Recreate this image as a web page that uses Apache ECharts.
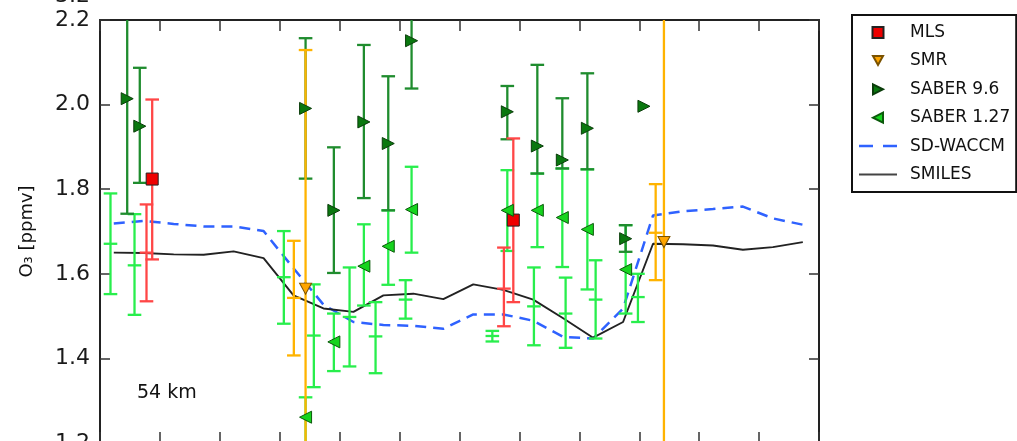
<!DOCTYPE html>
<html>
<head>
<meta charset="utf-8">
<script src="https://cdn.jsdelivr.net/npm/echarts@6/dist/echarts.min.js"></script>
<style>
html,body{margin:0;padding:0;background:#ffffff;}
#chart{width:1017px;height:441px;}
</style>
</head>
<body>
<div id="chart"></div>
<script>
// ---------------- data ----------------
const yTicks = [1.2, 1.4, 1.6, 1.8, 2.0, 2.2];

// model curves
const modelX  = [0.23, 0.73, 1.23, 1.73, 2.23, 2.73, 3.23, 3.73, 4.23, 4.73, 5.23, 5.73,
                 6.23, 6.73, 7.23, 7.73, 8.23, 8.73, 9.23, 9.73, 10.23, 10.73, 11.23, 11.73];
const smiles  = [1.650, 1.649, 1.646, 1.645, 1.653, 1.637, 1.549, 1.518, 1.510, 1.549, 1.553, 1.540,
                 1.575, 1.562, 1.539, 1.495, 1.449, 1.486, 1.671, 1.670, 1.667, 1.657, 1.663, 1.675];
const sdwaccm = [1.719, 1.725, 1.718, 1.712, 1.712, 1.701, 1.613, 1.527, 1.486, 1.479, 1.477, 1.470,
                 1.504, 1.504, 1.489, 1.451, 1.447, 1.518, 1.738, 1.748, 1.753, 1.759, 1.731, 1.716];

// MLS (markers)
const mlsX    = [0.871, 6.898];
const mlsVal  = [1.824, 1.727];
const mlsLow  = [1.634, 1.533];
const mlsHigh = [2.012, 1.920];
// MLS (bars without marker)
const mlsBarX    = [0.776, 6.741];
const mlsBarMid  = [1.650, 1.565];
const mlsBarLow  = [1.535, 1.476];
const mlsBarHigh = [1.764, 1.662];

// SMR (markers)
const smrX    = [3.431, 9.412];
const smrVal  = [1.565, 1.675];
const smrLow  = [1.05, 1.05];
const smrHigh = [2.129, 2.35];
// SMR (bars without marker)
const smrBarX    = [3.235, 9.274];
const smrBarMid  = [1.543, 1.697];
const smrBarLow  = [1.407, 1.585];
const smrBarHigh = [1.678, 1.812];

// SABER 9.6 um
const s96X    = [0.454, 0.664, 3.431, 3.903, 4.404, 4.811, 5.200, 6.798, 7.299, 7.716, 8.134, 8.773, 9.078];
const s96Val  = [2.014, 1.949, 1.991, 1.750, 1.959, 1.908, 2.151, 1.983, 1.902, 1.869, 1.944, 1.683, 1.996];
const s96Low  = [1.742, 1.815, 1.825, 1.602, 1.779, 1.750, 2.038, 1.918, 1.837, 1.849, 1.847, 1.652, 1.996];
const s96High = [2.35,  2.087, 2.157, 1.899, 2.141, 2.067, 2.35,  2.044, 2.094, 2.015, 2.074, 1.715, 1.996];

// SABER 1.27 um (markers)
const s127X    = [3.431, 3.903, 4.404, 4.811, 5.200, 6.798, 7.299, 7.716, 8.134, 8.773];
const s127Val  = [1.261, 1.439, 1.618, 1.665, 1.752, 1.750, 1.750, 1.733, 1.705, 1.610];
const s127Low  = [1.10,  1.370, 1.525, 1.574, 1.650, 1.654, 1.663, 1.616, 1.563, 1.506];
const s127High = [1.308, 1.506, 1.717, 1.750, 1.853, 1.845, 1.837, 1.849, 1.847, 1.715];
// SABER 1.27 um (bars without marker)
const s127BarX    = [0.175, 0.576, 3.068, 3.569, 4.165, 4.599, 5.100, 6.548, 7.242, 7.771, 8.272, 8.978];
const s127BarMid  = [1.671, 1.620, 1.592, 1.454, 1.498, 1.452, 1.539, 1.453, 1.523, 1.506, 1.539, 1.545];
const s127BarLow  = [1.552, 1.503, 1.482, 1.332, 1.381, 1.365, 1.494, 1.440, 1.431, 1.425, 1.447, 1.486];
const s127BarHigh = [1.790, 1.741, 1.701, 1.575, 1.615, 1.533, 1.585, 1.465, 1.615, 1.591, 1.632, 1.600];

const legendNames = ['MLS', 'SMR', 'SABER 9.6', 'SABER 1.27', 'SD-WACCM', 'SMILES'];
const altitudeText = '54 km';

// ---------------- styling ----------------
const FONT = 'DejaVu Sans';
const C = {
  mlsBar: '#ff4646', mlsMark: '#ee0000',
  smrBar: '#ffb300', smrMark: '#ffa500',
  s96Bar: '#1f8c2e', s96Mark: '#0a780f',
  s127Bar: '#28ee4c', s127Mark: '#16d41e',
  waccm: '#2f62ff', smiles: '#222222'
};

function errData(xs, lo, hi, mid) {
  return xs.map((x, i) => [x, lo[i], hi[i], mid ? mid[i] : NaN]);
}
function errRender(color, withMid) {
  return function (params, api) {
    const x = api.value(0);
    const pTop = api.coord([x, api.value(2)]);
    const pBot = api.coord([x, api.value(1)]);
    const cw = 6.8;
    const style = { stroke: color, lineWidth: 2.3, fill: null };
    const ch = [];
    if (Math.abs(pBot[1] - pTop[1]) > 0.5) {
      ch.push({ type: 'line', shape: { x1: pTop[0], y1: pTop[1], x2: pBot[0], y2: pBot[1] }, style });
      ch.push({ type: 'line', shape: { x1: pTop[0] - cw, y1: pTop[1], x2: pTop[0] + cw, y2: pTop[1] }, style });
      ch.push({ type: 'line', shape: { x1: pBot[0] - cw, y1: pBot[1], x2: pBot[0] + cw, y2: pBot[1] }, style });
    }
    if (withMid) {
      const m = api.coord([x, api.value(3)]);
      ch.push({ type: 'line', shape: { x1: m[0] - cw, y1: m[1], x2: m[0] + cw, y2: m[1] }, style });
    }
    return { type: 'group', children: ch };
  };
}
function errSeries(id, data, color, withMid) {
  return {
    type: 'custom', id: id, name: id, data: data, clip: true, z: 3,
    encode: { x: 0, y: [1, 2] }, renderItem: errRender(color, withMid),
    silent: true, animation: false
  };
}
const pair = (xs, vs) => xs.map((x, i) => [x, vs[i]]);

const SYM_SQUARE = 'path://M0,0H10V10H0Z';
const SYM_RIGHT = 'path://M0,0L10,5L0,10Z';
const SYM_LEFT = 'path://M10,0L0,5L10,10Z';
const SYM_DOWN = 'path://M0,0H10L5,9Z';

const chart = echarts.init(document.getElementById('chart'), null, { renderer: 'canvas' });

const axisLineStyle = { color: '#222', width: 2 };
const tickStyle = { color: '#333', width: 1.5 };

const option = {
  animation: false,
  backgroundColor: '#ffffff',
  textStyle: { fontFamily: FONT },
  grid: { left: 100, top: 20, width: 719, height: 423, containLabel: false, outerBoundsMode: 'none' },
  xAxis: [
    { type: 'value', position: 'bottom', min: 0, max: 12, interval: 1,
      axisLine: { show: true, lineStyle: axisLineStyle, onZero: false },
      axisTick: { show: true, inside: true, length: 11, lineStyle: tickStyle },
      axisLabel: { show: false }, splitLine: { show: false } },
    { type: 'value', position: 'top', min: 0, max: 12, interval: 1,
      axisLine: { show: true, lineStyle: axisLineStyle, onZero: false },
      axisTick: { show: true, inside: true, length: 11, lineStyle: tickStyle },
      axisLabel: { show: false }, splitLine: { show: false } }
  ],
  yAxis: [
    { type: 'value', position: 'left', min: yTicks[0], max: yTicks[yTicks.length - 1], interval: 0.2,
      name: 'O\u2083 [ppmv]', nameLocation: 'middle', nameGap: 64, nameRotate: 90,
      nameTextStyle: { fontFamily: FONT, fontSize: 18, color: '#111' },
      axisLine: { show: true, lineStyle: axisLineStyle, onZero: false },
      axisTick: { show: true, inside: true, length: 10, lineStyle: tickStyle },
      axisLabel: { show: true, margin: 10, fontFamily: FONT, fontSize: 22, color: '#1a1a1a',
                   formatter: v => v.toFixed(1) },
      splitLine: { show: false } },
    { type: 'value', position: 'right', min: yTicks[0], max: yTicks[yTicks.length - 1], interval: 0.2,
      axisLine: { show: true, lineStyle: axisLineStyle, onZero: false },
      axisTick: { show: true, inside: true, length: 10, lineStyle: tickStyle },
      axisLabel: { show: false }, splitLine: { show: false } }
  ],
  legend: {
    orient: 'vertical', left: 852, top: 15,
    padding: [9, 6, 9, 7],
    itemWidth: 38, itemHeight: 14, itemGap: 11.4,
    borderColor: '#111', borderWidth: 2, backgroundColor: '#fff',
    selectedMode: false, symbolKeepAspect: true,
    textStyle: { fontFamily: FONT, fontSize: 17, color: '#111', padding: [0, 0, 0, 8], lineHeight: 14 },
    data: [
      { name: legendNames[0], icon: 'path://M-1.5,-1.5M12.5,12.5M0,0H11V11H0Z' },
      { name: legendNames[1], icon: 'path://M-2,-2M12,12M0,0H10L5,9Z' },
      { name: legendNames[2], icon: 'path://M-2,-2M12,12M0,0L10,5L0,10Z' },
      { name: legendNames[3], icon: 'path://M-2,-2M12,12M10,0L0,5L10,10Z' },
      { name: legendNames[4], icon: 'path://M0,0H14V2.5H0Z M24,0H38V2.5H24Z',
        itemStyle: { color: C.waccm, borderWidth: 0 } },
      { name: legendNames[5], icon: 'path://M0,0H38V2H0Z',
        itemStyle: { color: '#444', borderWidth: 0 } }
    ]
  },
  graphic: [
    { type: 'text', left: 137, top: 384, silent: true,
      style: { text: altitudeText, font: '19px "DejaVu Sans"', fill: '#111' } },
    { type: 'text', silent: true, x: 90, y: 7,
      style: { text: '3.2', font: '22px "DejaVu Sans"', fill: '#1a1a1a', align: 'right', verticalAlign: 'bottom' } }
  ],
  series: [
    { type: 'line', name: legendNames[4], data: pair(modelX, sdwaccm), z: 2,
      symbol: 'none', showSymbol: false, smooth: false,
      lineStyle: { color: C.waccm, width: 2.5, type: [11, 7] }, itemStyle: { color: C.waccm } },
    { type: 'line', name: legendNames[5], data: pair(modelX, smiles), z: 2,
      symbol: 'none', showSymbol: false, smooth: false,
      lineStyle: { color: C.smiles, width: 1.9 }, itemStyle: { color: '#444' } },

    errSeries('s127bars', errData(s127BarX, s127BarLow, s127BarHigh, s127BarMid), C.s127Bar, true),
    errSeries('s127err', errData(s127X, s127Low, s127High), C.s127Bar, false),
    errSeries('s96err', errData(s96X, s96Low, s96High), C.s96Bar, false),
    errSeries('mlsbars', errData(mlsBarX, mlsBarLow, mlsBarHigh, mlsBarMid), C.mlsBar, true),
    errSeries('mlserr', errData(mlsX, mlsLow, mlsHigh), C.mlsBar, false),
    errSeries('smrbars', errData(smrBarX, smrBarLow, smrBarHigh, smrBarMid), C.smrBar, true),
    errSeries('smrerr', errData(smrX, smrLow, smrHigh), C.smrBar, false),

    { type: 'scatter', name: legendNames[0], data: pair(mlsX, mlsVal), z: 5,
      symbol: SYM_SQUARE, symbolSize: 12,
      itemStyle: { color: C.mlsMark, borderColor: '#222', borderWidth: 1, opacity: 1 } },
    { type: 'scatter', name: legendNames[1], data: pair(smrX, smrVal), z: 5,
      symbol: SYM_DOWN, symbolSize: [12, 11],
      itemStyle: { color: C.smrMark, borderColor: '#7a5200', borderWidth: 1, opacity: 1 } },
    { type: 'scatter', name: legendNames[2], data: pair(s96X, s96Val), z: 5,
      symbol: SYM_RIGHT, symbolSize: [12, 12],
      itemStyle: { color: C.s96Mark, borderColor: '#0b3d0b', borderWidth: 1, opacity: 1 } },
    { type: 'scatter', name: legendNames[3], data: pair(s127X, s127Val), z: 5,
      symbol: SYM_LEFT, symbolSize: [12, 12],
      itemStyle: { color: C.s127Mark, borderColor: '#0b5a0b', borderWidth: 1, opacity: 1 } }
  ]
};
chart.setOption(option);
</script>
</body>
</html>
